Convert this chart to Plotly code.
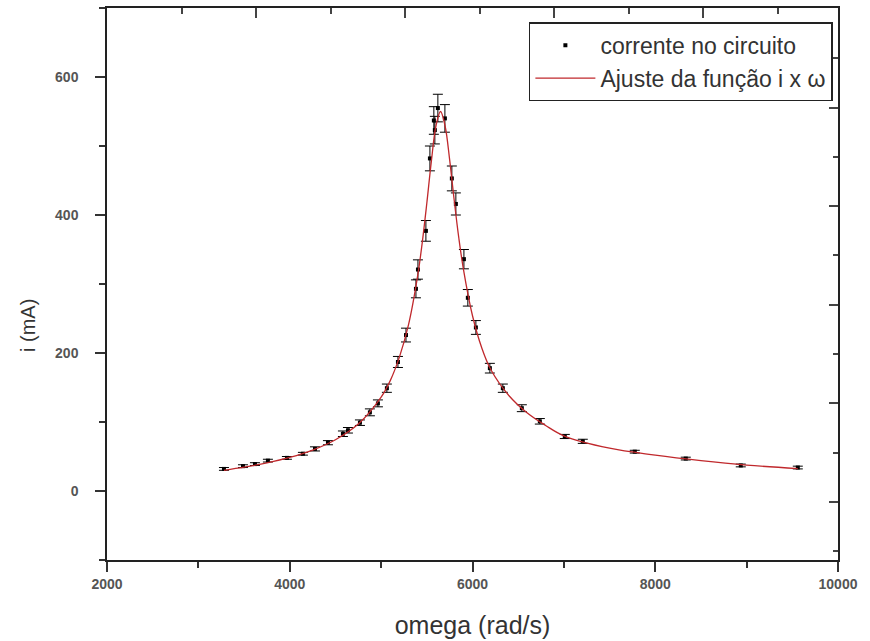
import plotly.graph_objects as go

# Measured current in the RLC circuit vs angular frequency
omega = [3280, 3488, 3619, 3761, 3969, 4144, 4276, 4418, 4582, 4637, 4768, 4877,
         4965, 5063, 5184, 5272, 5381, 5403, 5490, 5534, 5577, 5588, 5621,
         5698, 5774, 5818, 5906, 5949, 6037, 6190, 6332, 6540, 6737, 7010, 7207,
         7776, 8334, 8936, 9560]
current = [32, 36, 39, 44, 48, 54, 61, 70, 83, 88, 99, 114,
           127, 149, 187, 226, 293, 321, 377, 482, 537, 523, 555,
           540, 453, 416, 336, 280, 237, 178, 149, 120, 101, 79, 72,
           57, 47, 37, 34]
current_err = [2, 2, 2, 2, 2, 2, 3, 3, 4, 4, 4, 5,
               5, 6, 8, 10, 13, 14, 15, 18, 20, 20, 20,
               20, 18, 16, 14, 12, 10, 7, 6, 5, 4, 3, 3,
               2, 2, 2, 2]

# Fitted resonance curve i(omega)
fit_omega = [3280, 3500, 3750, 4000, 4250, 4500, 4750, 5000, 5100, 5200, 5300,
             5400, 5450, 5500, 5550, 5600, 5650, 5700, 5750, 5800, 5850, 5900,
             6000, 6100, 6200, 6400, 6600, 6800, 7000, 7500, 8000, 8500, 9000, 9560]
fit_current = [30, 34.5, 40.7, 48.6, 59.2, 74.2, 97, 136, 160, 194, 241,
               312, 360, 417, 478, 529, 550, 529, 480, 421, 367, 322,
               254, 208, 176, 138, 113, 95, 80, 62, 52, 44, 37.5, 32.5]

x_ticks = [2000, 4000, 6000, 8000, 10000]
y_ticks = [0, 200, 400, 600]

font_main = "Liberation Sans, Arial, sans-serif"

fig = go.Figure()

fig.add_trace(go.Scatter(
    x=omega, y=current, mode="markers", name="corrente no circuito",
    legendgroup="dados",
    marker=dict(symbol="square", size=4, color="black"),
    error_y=dict(type="data", array=current_err, visible=True,
                 color="black", thickness=1, width=5),
))

fig.add_trace(go.Scatter(
    x=fit_omega, y=fit_current, mode="lines", name="Ajuste da função i x ω",
    legendgroup="ajuste",
    line=dict(color="#c0282c", width=1.3, shape="spline", smoothing=1.0),
))

# Empty trace so the decorative top/right tick axes get drawn
fig.add_trace(go.Scatter(x=[], y=[], xaxis="x2", yaxis="y2",
                         showlegend=False, hoverinfo="skip"))

axis_common = dict(
    showline=True, linecolor="#222", linewidth=1.5, mirror=True,
    showgrid=False, zeroline=False, automargin=False,
    ticks="outside", ticklen=10, tickwidth=1.5, tickcolor="#333",
    tickfont=dict(family=font_main, size=14, color="#555", weight="bold"),
)

fig.update_layout(
    width=870, height=641,
    margin=dict(l=107, r=32, t=8, b=81),
    paper_bgcolor="white", plot_bgcolor="white",
    xaxis=dict(
        range=[2000, 10000], tickvals=x_ticks,
        ticktext=[str(v) for v in x_ticks],
        minor=dict(dtick=1000, ticks="outside", ticklen=6, tickwidth=1.5,
                   tickcolor="#333", showgrid=False),
        title=dict(text="omega (rad/s)", standoff=26,
                   font=dict(family=font_main, size=25, color="#333")),
        **axis_common,
    ),
    yaxis=dict(
        range=[-100, 700], tickvals=y_ticks,
        ticktext=[str(v) for v in y_ticks],
        ticklabelstandoff=14,
        minor=dict(dtick=100, ticks="outside", ticklen=6, tickwidth=1.5,
                   tickcolor="#333", showgrid=False),
        **axis_common,
    ),
    # Decorative inside ticks on the top and right frame edges
    xaxis2=dict(
        overlaying="x", side="top", range=[0, 9.81], dtick=2,
        showticklabels=False, showline=False, showgrid=False, zeroline=False,
        ticks="inside", ticklen=10, tickwidth=1.5, tickcolor="#444",
        minor=dict(dtick=1, ticks="inside", ticklen=6, tickwidth=1.5,
                   tickcolor="#444", showgrid=False),
    ),
    yaxis2=dict(
        overlaying="y", side="right", range=[0.82, 12.02], dtick=2,
        showticklabels=False, showline=False, showgrid=False, zeroline=False,
        ticks="inside", ticklen=9, tickwidth=1.5, tickcolor="#444",
        minor=dict(dtick=1, ticks="inside", ticklen=5, tickwidth=1.5,
                   tickcolor="#444", showgrid=False),
    ),
    annotations=[dict(
        text="i (mA)", textangle=-90, xref="paper", yref="paper",
        x=-0.108, y=0.424, xanchor="center", yanchor="middle", showarrow=False,
        font=dict(family=font_main, size=20, color="#333"),
    )],
    legend=dict(
        x=0.993, y=0.974, xanchor="right", yanchor="top",
        bgcolor="white", bordercolor="#222", borderwidth=1.5,
        font=dict(family=font_main, size=23, color="#333"),
        itemwidth=60, traceorder="grouped", tracegroupgap=0,
    ),
    showlegend=True,
)

fig.write_html("out.html")
